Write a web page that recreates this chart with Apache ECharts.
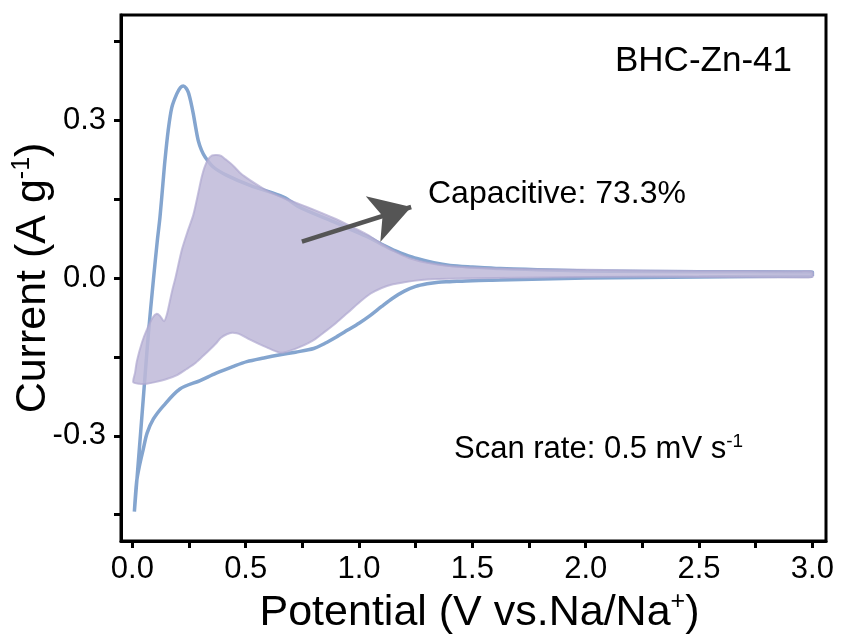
<!DOCTYPE html>
<html>
<head>
<meta charset="utf-8">
<script src="https://cdn.jsdelivr.net/npm/echarts@6/dist/echarts.min.js"></script>
<style>html,body{margin:0;padding:0;background:#fff;}#c{width:843px;height:637px;}</style>
</head>
<body>
<div id="c"></div>
<script>
// Total CV curve (cathodic branch 3.0 -> 0.01 V, then anodic branch back to 3.0 V)
const cvX = [3.0, 2.5, 2.0, 1.62, 1.5, 1.4, 1.35, 1.3, 1.25, 1.2, 1.15, 1.1, 1.05, 1.0, 0.95, 0.9, 0.85, 0.8, 0.72, 0.652, 0.58, 0.505, 0.446, 0.37, 0.299, 0.21, 0.137, 0.093, 0.065, 0.049, 0.03, 0.019, 0.009,
  0.03, 0.05, 0.07, 0.093, 0.11, 0.122, 0.135, 0.144, 0.158, 0.174, 0.196, 0.212, 0.225, 0.237, 0.247, 0.258, 0.269, 0.28, 0.291, 0.305, 0.321, 0.357, 0.417, 0.519, 0.667, 0.74, 0.887, 0.96, 1.034, 1.1, 1.152, 1.2, 1.255, 1.33, 1.402, 1.5, 1.623, 2.0, 2.5, 3.0, 3.0];
const cvY = [0.004, 0.002, 0.0, -0.004, -0.005, -0.007, -0.008, -0.011, -0.016, -0.025, -0.038, -0.054, -0.071, -0.086, -0.099, -0.112, -0.124, -0.134, -0.141, -0.146, -0.152, -0.159, -0.168, -0.181, -0.195, -0.211, -0.243, -0.268, -0.295, -0.324, -0.36, -0.387, -0.444,
  -0.33, -0.22, -0.11, -0.003, 0.07, 0.116, 0.18, 0.224, 0.28, 0.324, 0.35, 0.362, 0.365, 0.361, 0.353, 0.335, 0.312, 0.285, 0.261, 0.243, 0.230, 0.211, 0.195, 0.176, 0.154, 0.134, 0.107, 0.093, 0.079, 0.064, 0.053, 0.045, 0.037, 0.029, 0.024, 0.021, 0.018, 0.0135, 0.012, 0.011, 0.004];

// Capacitive contribution (closed region)
const capX = [0.004, 0.012, 0.02, 0.042, 0.064, 0.09, 0.108, 0.122, 0.14, 0.152, 0.165, 0.178, 0.19, 0.218, 0.245, 0.269, 0.29, 0.305, 0.318, 0.335, 0.352, 0.372, 0.392, 0.41, 0.446, 0.48, 0.519, 0.593, 0.667, 0.74, 0.81, 0.887, 0.96, 1.034, 1.1, 1.16, 1.22, 1.3, 1.4, 1.5, 1.7, 2.0, 2.5, 2.95, 3.0,
  3.0, 2.95, 2.5, 2.0, 1.6, 1.45, 1.35, 1.3, 1.25, 1.2, 1.15, 1.1, 1.05, 1.0, 0.95, 0.9, 0.85, 0.8, 0.74, 0.69, 0.652, 0.593, 0.519, 0.48, 0.461, 0.44, 0.417, 0.39, 0.372, 0.34, 0.313, 0.28, 0.24, 0.2, 0.152, 0.1, 0.064, 0.03];
const capY = [-0.198, -0.18, -0.158, -0.123, -0.098, -0.075, -0.068, -0.072, -0.082, -0.07, -0.045, -0.02, 0.0, 0.053, 0.09, 0.12, 0.16, 0.19, 0.21, 0.226, 0.233, 0.234, 0.232, 0.226, 0.213, 0.198, 0.186, 0.166, 0.152, 0.14, 0.128, 0.114, 0.099, 0.083, 0.065, 0.05, 0.038, 0.029, 0.023, 0.02, 0.017, 0.0155, 0.0135, 0.013, 0.012,
  0.002, 0.001, 0.002, 0.002, 0.0, -0.001, -0.002, -0.003, -0.005, -0.008, -0.012, -0.019, -0.03, -0.047, -0.066, -0.085, -0.102, -0.118, -0.131, -0.139, -0.142, -0.132, -0.117, -0.108, -0.105, -0.104, -0.107, -0.114, -0.123, -0.137, -0.148, -0.161, -0.173, -0.184, -0.192, -0.198, -0.201, -0.201];

// Arrow (tail -> head), in data units
const arrowX = [0.748, 1.23];
const arrowY = [0.069, 0.135];

const xTicks = [0, 0.25, 0.5, 0.75, 1.0, 1.25, 1.5, 1.75, 2.0, 2.25, 2.5, 2.75, 3.0];
const xLabels = [0, 0.5, 1.0, 1.5, 2.0, 2.5, 3.0];
const yTicks = [-0.45, -0.3, -0.15, 0, 0.15, 0.3, 0.45];
const yLabels = [-0.3, 0, 0.3];

const FONT = '"Liberation Sans", Arial, Helvetica, sans-serif';

const cvData = cvX.map((x, i) => [x, cvY[i]]);
const capData = capX.map((x, i) => [x, capY[i]]);

const chart = echarts.init(document.getElementById('c'), null, {renderer: 'canvas'});
chart.setOption({
  animation: false,
  backgroundColor: '#fff',
  grid: {left: 121, right: 17, top: 15, bottom: 96, containLabel: false, outerBoundsMode: 'none',
    show: true, borderColor: '#000', borderWidth: 3, backgroundColor: 'transparent'},
  xAxis: {
    type: 'value', min: -0.05, max: 3.06,
    axisLine: {show: true, onZero: false, lineStyle: {color: '#000', width: 3}},
    axisTick: {show: true, customValues: xTicks, length: 7, lineStyle: {color: '#000', width: 3}},
    axisLabel: {customValues: xLabels, margin: 13, fontSize: 31, fontFamily: FONT, color: '#000', formatter: v => v.toFixed(1)},
    splitLine: {show: false},
    name: '{a|Potential (V vs.Na/Na}{b|+}{a|)}',
    nameLocation: 'middle', nameGap: 49, nameMoveOverlap: false,
    nameTextStyle: {fontFamily: FONT, color: '#000', padding: [0, 0, 0, 12], rich: {
      a: {fontSize: 43, fontFamily: FONT, color: '#000', lineHeight: 46},
      b: {fontSize: 25, fontFamily: FONT, color: '#000', verticalAlign: 'top', lineHeight: 25}
    }}
  },
  yAxis: {
    type: 'value', min: -0.5, max: 0.5,
    axisLine: {show: true, onZero: false, lineStyle: {color: '#000', width: 3}},
    axisTick: {show: true, customValues: yTicks, length: 7, lineStyle: {color: '#000', width: 3}},
    axisLabel: {customValues: yLabels, margin: 15, fontSize: 31, fontFamily: FONT, color: '#000', formatter: v => v.toFixed(1)},
    splitLine: {show: false},
    name: '{a|Current (A g}{b|-1}{a|)}',
    nameLocation: 'middle', nameGap: 65, nameMoveOverlap: false,
    nameTextStyle: {fontFamily: FONT, color: '#000', rich: {
      a: {fontSize: 43, fontFamily: FONT, color: '#000', lineHeight: 46},
      b: {fontSize: 25, fontFamily: FONT, color: '#000', verticalAlign: 'top', lineHeight: 25}
    }}
  },
  series: [
    {
      type: 'line', data: cvData, smooth: 0.3, showSymbol: false, z: 2,
      lineStyle: {color: '#84a5cf', width: 3.5},
      markLine: {
        silent: true, animation: false, symbol: ['none', 'arrow'], symbolSize: [36, 40],
        label: {show: false},
        lineStyle: {color: '#555555', width: 4.5, type: 'solid'},
        data: [[{coord: [arrowX[0], arrowY[0]]}, {coord: [arrowX[1], arrowY[1]]}]]
      }
    },
    {
      type: 'custom', z: 3, data: capData,
      renderItem: function (params, api) {
        if (params.dataIndex !== 0) return null;
        const pts = capData.map(p => api.coord(p));
        return {
          type: 'polygon',
          shape: {points: pts, smooth: 0.25},
          style: {fill: 'rgba(190,184,216,0.85)', stroke: 'rgba(175,168,208,0.7)', lineWidth: 2}
        };
      }
    }
  ],
  graphic: [
    {type: 'text', x: 615, y: 61, style: {text: 'BHC-Zn-41', font: '35px ' + FONT, fill: '#000', textVerticalAlign: 'middle'}},
    {type: 'text', x: 428, y: 194, style: {text: 'Capacitive: 73.3%', font: '32px ' + FONT, fill: '#000', textVerticalAlign: 'middle'}},
    {type: 'text', x: 454, y: 449, style: {
      text: '{a|Scan rate: 0.5 mV s}{b|-1}', textVerticalAlign: 'middle',
      rich: {
        a: {fontSize: 31, fontFamily: FONT, fill: '#000', color: '#000', lineHeight: 33},
        b: {fontSize: 19, fontFamily: FONT, fill: '#000', color: '#000', verticalAlign: 'top', lineHeight: 19}
      }
    }}
  ]
});
</script>
</body>
</html>
